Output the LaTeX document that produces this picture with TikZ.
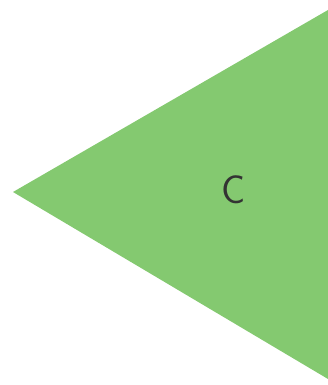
\documentclass[tikz,border=0pt]{standalone}
\usepackage{tikz}
\usetikzlibrary{positioning,calc}
\definecolor{leafgreen}{RGB}{132,201,112}

\begin{document}
\begin{tikzpicture}[x=1pt, y=1pt]
    % Frame of the picture
    \useasboundingbox (0,0) rectangle (328,385);

    % Corners of the wedge
    \coordinate (tip) at (13,193);
    \coordinate (topright) at (328,375);
    \coordinate (botright) at (328,6);

    % Green wedge pointing left
    \fill[leafgreen] (tip) -- (topright) -- (botright) -- cycle;

    % Letter inside
    \node[text=black!80, font=\sffamily\fontsize{40}{40}\selectfont] (letter) at (234,195) {C};
\end{tikzpicture}
\end{document}
